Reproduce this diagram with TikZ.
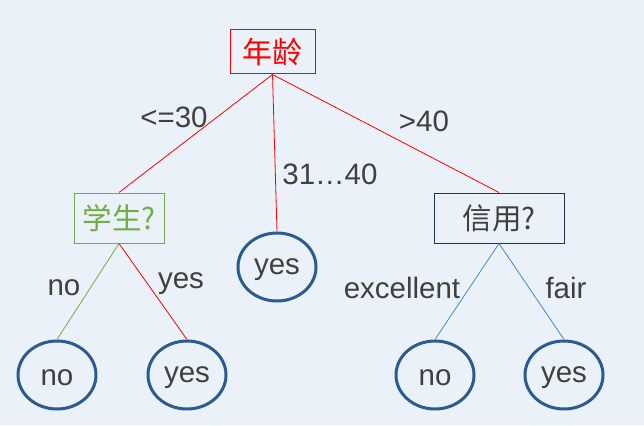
\documentclass[tikz,border=0pt]{standalone}
\usepackage{fontspec}
\usetikzlibrary{shapes.geometric}
\setmainfont{Liberation Sans}
\newfontfamily\cjk{Noto Sans CJK SC}
\definecolor{bg}{HTML}{EAF1F8}
\definecolor{txt}{HTML}{404040}
\definecolor{leafc}{HTML}{2B5C8E}
\definecolor{greenc}{HTML}{70AD47}
\definecolor{navyc}{HTML}{1F3569}
\definecolor{bluel}{HTML}{3F86CC}
\definecolor{redc}{HTML}{FF0000}
\begin{document}
\begin{tikzpicture}[x=1pt,y=-1pt,
  every node/.style={font=\fontsize{29.5}{32}\selectfont, text=txt, inner sep=0pt},
  qbox/.style={draw, line width=1pt, minimum height=50pt},
  leaf/.style={ellipse, draw=leafc, line width=3pt, minimum width=78pt, minimum height=68pt,
    label={[yshift=-2.5pt, text=txt]center:#1}},
  lbl/.style={}
]
\useasboundingbox[fill=bg] (0,0) rectangle (644,425);
\node[qbox, draw=redc, text=redc, minimum width=85pt, minimum height=44pt, font=\cjk\fontsize{30}{32}\selectfont] (root) at (272.5,52) {年龄};
\node[qbox, draw=greenc, text=greenc, minimum width=90pt, font=\cjk\fontsize{29.5}{32}\selectfont] (stu) at (119,218) {学生?};
\node[qbox, draw=navyc, minimum width=130pt, font=\cjk\fontsize{29.5}{32}\selectfont] (cred) at (499,218) {信用?};
\node[leaf=yes] (mid) at (277,267) {};
\node[leaf=no] (l1) at (57,375) {};
\node[leaf=yes] (l2) at (187,375) {};
\node[leaf=no] (l3) at (435,375) {};
\node[leaf=yes] (l4) at (564,375) {};
\draw[redc, line width=0.8pt] (root.south) -- (stu.north);
\draw[redc, line width=0.8pt] (root.south) -- (mid.north);
\draw[redc, line width=0.8pt] (root.south) -- (cred.north);
\draw[greenc, line width=0.8pt] (stu.south) -- (l1.north);
\draw[redc, line width=0.8pt] (stu.south) -- (l2.north);
\draw[bluel, line width=0.8pt] (cred.south) -- (l3.north);
\draw[bluel, line width=0.8pt] (cred.south) -- (l4.north);
\node[lbl] (t1) at (174,117) {<=30};
\node[lbl] (t2) at (424,121) {>40};
\node[lbl] (t3) at (330,174) {31…40};
\node[lbl] (t4) at (64,288) {no};
\node[lbl] (t5) at (181,284) {yes};
\node[lbl] (t6) at (402,288) {excellent};
\node[lbl] (t7) at (566,288) {fair};
\end{tikzpicture}
\end{document}
